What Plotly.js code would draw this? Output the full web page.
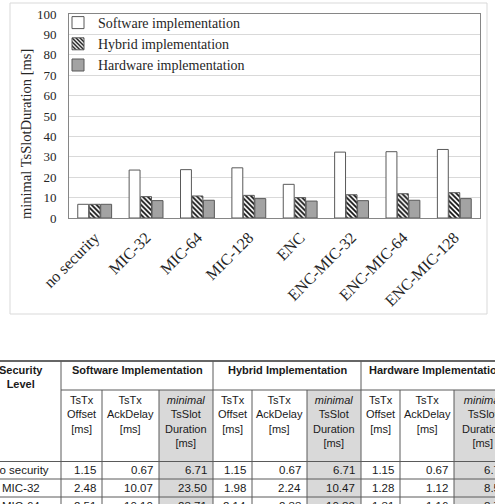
<!DOCTYPE html>
<html>
<head>
<meta charset="utf-8">
<script src="https://cdn.plot.ly/plotly-3.0.1.min.js"></script>
<style>html,body{margin:0;padding:0;background:#fff;overflow:hidden}#chart{width:495px;height:504px}</style>
</head>
<body>
<div id="chart"></div>
<script>
// ---------- chart data ----------
const categories = ['no security','MIC-32','MIC-64','MIC-128','ENC','ENC-MIC-32','ENC-MIC-64','ENC-MIC-128'];
const softwareValues = [6.71, 23.50, 23.7, 24.6, 16.5, 32.3, 32.5, 33.6];
const hybridValues   = [6.71, 10.47, 10.8, 11.1, 10.0, 11.4, 11.9, 12.4];
const hardwareValues = [6.71, 8.52, 8.7, 9.5, 8.3, 8.5, 8.7, 9.5];
const seriesNames = ['Software implementation','Hybrid implementation','Hardware implementation'];
const yTickValues = [0,10,20,30,40,50,60,70,80,90,100];

// ---------- table data ----------
const tableCorner = 'Security<br>Level';
const tableGroups = ['Software Implementation','Hybrid Implementation','Hardware Implementation'];
const tableSubHeaders = ['TsTx<br>Offset<br>[ms]','TsTx<br>AckDelay<br>[ms]','<i>minimal</i><br>TsSlot<br>Duration<br>[ms]'];
const tableLevels = ['no security','MIC-32','MIC-64'];
const tableRowNoSecurity = [1.15, 0.67, 6.71, 1.15, 0.67, 6.71, 1.15, 0.67, 6.71];
const tableRowMic32      = [2.48, 10.07, 23.50, 1.98, 2.24, 10.47, 1.28, 1.12, 8.52];
const tableRowMic64      = [2.51, 10.10, 23.71, 2.14, 2.33, 10.80, 1.31, 1.16, 8.73];
const tableRows = [tableRowNoSecurity, tableRowMic32, tableRowMic64];

// ---------- layout helpers (pixel -> paper) ----------
const W = 495, H = 504;
const px = v => v / W;
const py = v => 1 - v / H;
const serif = 'Liberation Serif, Times New Roman, serif';
const sans = 'Liberation Sans, Arial, sans-serif';

const barLine = {color: '#595959', width: 1};
const traces = [
  {type:'bar', name: seriesNames[0], x: categories, y: softwareValues,
   marker:{color:'#ffffff', line: barLine}},
  {type:'bar', name: seriesNames[1], x: categories, y: hybridValues,
   marker:{color:'#ffffff', line: barLine,
     pattern:{shape:'\\', fgcolor:'#111111', bgcolor:'#ffffff', size:3.5, solidity:0.5}}},
  {type:'bar', name: seriesNames[2], x: categories, y: hardwareValues,
   marker:{color:'#a3a3a3', line: barLine}}
];

// table geometry
const colEdges = [-19, 61, 102, 159, 213, 252, 307, 361, 400, 454, 512];
const rowEdges = [361, 390, 461.5, 479, 497, 515];
const lineColor = '#5a5a5a';

const shapes = [];
const annotations = [];

// outer chart frame
shapes.push({type:'rect', xref:'paper', yref:'paper', x0:px(10), x1:px(487), y0:py(3), y1:py(314),
  line:{color:'#d9d9d9', width:1}, fillcolor:'rgba(0,0,0,0)', layer:'below'});

// shaded minimal columns
[3,6,9].forEach(c => {
  shapes.push({type:'rect', xref:'paper', yref:'paper', x0:px(colEdges[c]), x1:px(colEdges[c+1]),
    y0:py(rowEdges[1]), y1:py(rowEdges[rowEdges.length-1]), fillcolor:'#d9d9d9', line:{width:0}, layer:'below'});
});
// grid lines of the table
const hline = (y, x0, x1, w, col) => shapes.push({type:'line', xref:'paper', yref:'paper',
  x0:px(x0), x1:px(x1), y0:py(y), y1:py(y), line:{color:col||lineColor, width:w||1}});
const vline = (x, y0, y1) => shapes.push({type:'line', xref:'paper', yref:'paper',
  x0:px(x), x1:px(x), y0:py(y0), y1:py(y1), line:{color:lineColor, width:1}});
const xEnd = colEdges[colEdges.length-1];
hline(rowEdges[0], colEdges[0], xEnd, 1.5, '#333');
hline(rowEdges[1], colEdges[1], xEnd);
for (let r = 2; r < rowEdges.length-1; r++) hline(rowEdges[r], colEdges[0], xEnd);
for (let c = 1; c < colEdges.length-1; c++) {
  const major = (c-1) % 3 === 0;
  vline(colEdges[c], major ? rowEdges[0] : rowEdges[1], rowEdges[rowEdges.length-1]);
}

// table texts
const tSize = 11;
const tFont = (size, color) => ({family: sans, size: size, color: color || '#1a1a1a'});
annotations.push({xref:'paper', yref:'paper', x:px((colEdges[0]+colEdges[1])/2), y:py(rowEdges[0]+2),
  xanchor:'center', yanchor:'top', text:'<b>'+tableCorner+'</b>', showarrow:false, font:tFont(tSize), borderpad:0});
tableGroups.forEach((g, i) => {
  const x0 = colEdges[1+3*i], x1 = colEdges[4+3*i];
  annotations.push({xref:'paper', yref:'paper', x:px((x0+x1)/2), y:py(rowEdges[0]+2),
    xanchor:'center', yanchor:'top', text:'<b>'+g+'</b>', showarrow:false, font:tFont(tSize), borderpad:0});
  tableSubHeaders.forEach((s, j) => {
    const c = 1+3*i+j;
    annotations.push({xref:'paper', yref:'paper', x:px((colEdges[c]+colEdges[c+1])/2), y:py(rowEdges[1]+2.5),
      xanchor:'center', yanchor:'top', text:s, showarrow:false, font:tFont(tSize), borderpad:0});
  });
});
tableLevels.forEach((lvl, r) => {
  const yc = (rowEdges[2+r] + rowEdges[3+r]) / 2;
  annotations.push({xref:'paper', yref:'paper', x:px((colEdges[0]+colEdges[1])/2), y:py(yc),
    xanchor:'center', yanchor:'middle', text:lvl, showarrow:false, font:tFont(tSize+0.5), borderpad:0});
  tableRows[r].forEach((v, j) => {
    annotations.push({xref:'paper', yref:'paper', x:px(colEdges[j+2]-5), y:py(yc),
      xanchor:'right', yanchor:'middle', text:v.toFixed(2), showarrow:false, font:tFont(tSize+0.5), borderpad:0});
  });
});

// y-axis title
annotations.push({xref:'paper', yref:'paper', x:px(26), y:py(134), xanchor:'center', yanchor:'middle',
  textangle:-90, text:'minimal TsSlotDuration [ms]', showarrow:false,
  font:{family:serif, size:14.5, color:'#262626'}});

const layout = {
  width: W, height: H,
  margin: {l:0, r:0, t:0, b:0},
  paper_bgcolor:'#ffffff', plot_bgcolor:'#ffffff',
  barmode:'group', bargap:0.33, bargroupgap:0.05,
  showlegend:true,
  legend:{x:px(58), y:py(7), xanchor:'left', yanchor:'top', bgcolor:'rgba(0,0,0,0)',
    font:{family:serif, size:14, color:'#262626'}, tracegroupgap:0, itemwidth:30},
  xaxis:{domain:[px(69), px(480)], type:'category', range:[-0.5, 7.5],
    tickangle:-45, tickfont:{family:serif, size:16, color:'#262626'},
    showline:true, mirror:true, linecolor:'#868686', linewidth:1, showgrid:false, ticks:'', ticklabelstandoff:3},
  yaxis:{domain:[py(218), py(14)], range:[0,100], tickvals:yTickValues,
    tickfont:{family:serif, size:13, color:'#262626'},
    showline:true, mirror:true, linecolor:'#868686', linewidth:1,
    showgrid:true, gridcolor:'#d9d9d9', gridwidth:1, zeroline:false, ticks:'', ticklabelstandoff:9},
  shapes: shapes,
  annotations: annotations
};

Plotly.newPlot('chart', traces, layout, {displayModeBar:false, staticPlot:true});
</script>
</body>
</html>
